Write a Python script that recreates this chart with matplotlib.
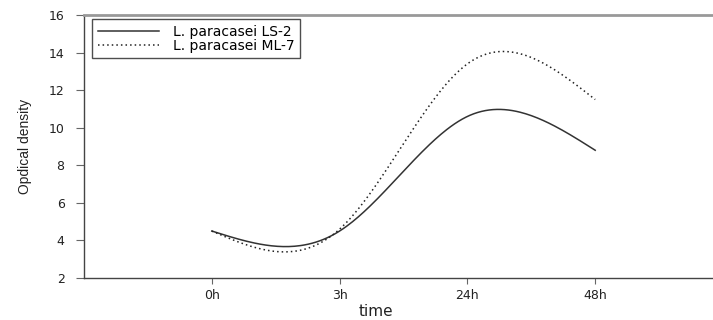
import numpy as np
import matplotlib
matplotlib.use("Agg")
import matplotlib.pyplot as plt

categories = ["0h", "3h", "24h", "48h"]
ls2 = [4.5, 4.5, 10.6, 8.8]
ml7 = [4.5, 4.6, 13.4, 11.5]
series_names = ["L. paracasei LS-2", "L. paracasei ML-7"]


def natural_spline(y, n=200):
    y = np.asarray(y, float)
    k = len(y)
    A = np.zeros((k, k))
    b = np.zeros(k)
    A[0, 0] = 1
    A[-1, -1] = 1
    for i in range(1, k - 1):
        A[i, i - 1:i + 2] = [1, 4, 1]
        b[i] = 6 * (y[i - 1] - 2 * y[i] + y[i + 1])
    M = np.linalg.solve(A, b)
    xs = np.linspace(0, k - 1, n)
    ys = np.empty_like(xs)
    for j, xv in enumerate(xs):
        i = min(int(np.floor(xv)), k - 2)
        t = xv - i
        ys[j] = (y[i] * (1 - t) + y[i + 1] * t
                 + M[i] / 6 * ((1 - t) ** 3 - (1 - t))
                 + M[i + 1] / 6 * (t ** 3 - t))
    return xs, ys


fig = plt.figure(figsize=(7.13, 3.2), dpi=100)
ax = fig.add_axes([84 / 713, 1 - 278 / 320, (723 - 84) / 713, 263 / 320])

xs, ys = natural_spline(ls2)
ax.plot(xs, ys, color="#333333", lw=1.1, ls="-", label=series_names[0])
xs, ys = natural_spline(ml7)
ax.plot(xs, ys, color="#222222", lw=1.1, ls=(0, (1, 2)), label=series_names[1])

ax.set_xlim(-1, 4)
ax.set_ylim(2, 16)
ax.set_yticks(np.arange(2, 17, 2))
ax.set_xticks(range(len(categories)))
ax.set_xticklabels(categories)

for s in ["left", "bottom"]:
    ax.spines[s].set_color("#444444")
    ax.spines[s].set_linewidth(1.0)
ax.spines["top"].set_color("#999999")
ax.spines["top"].set_linewidth(2.0)
ax.spines["right"].set_visible(False)

ax.tick_params(axis="y", direction="out", length=6, width=0.8, color="#666666",
               labelsize=9, pad=8, labelcolor="#222222")
ax.tick_params(axis="x", direction="out", length=4, width=0.8, color="#666666",
               labelsize=9, pad=4, labelcolor="#222222")

ax.set_xlabel("time", fontsize=11, labelpad=1, color="#222222")
ax.xaxis.set_label_coords((376 - 84) / 639, -0.1, transform=ax.transAxes)
ax.set_ylabel("Opdical density", fontsize=10,
              family=["Liberation Sans Narrow", "Liberation Sans", "DejaVu Sans"],
              labelpad=12, color="#222222")

# legend box anchored at pixel (92, 19) top-left
x0 = 92 / 713
y0 = 1 - 19 / 320
leg = ax.legend(loc="upper left", bbox_to_anchor=(x0, y0),
                bbox_transform=fig.transFigure, frameon=True, fancybox=False,
                fontsize=10, handlelength=4.4, borderpad=0.4, labelspacing=0.0,
                handletextpad=1.0, borderaxespad=0)
leg.get_frame().set_edgecolor("#222222")
leg.get_frame().set_linewidth(1.0)

fig.savefig("out.png", dpi=100)
